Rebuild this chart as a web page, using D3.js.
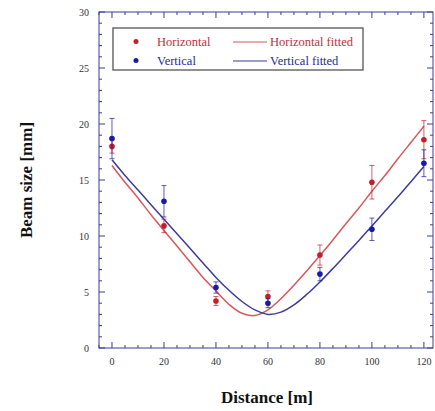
<!DOCTYPE html>
<html>
<head>
<meta charset="utf-8">
<script src="https://cdn.jsdelivr.net/npm/d3@7"></script>
<style>
  body { margin: 0; background: #fff; }
  text { font-family: "Liberation Serif", "Times New Roman", serif; }
</style>
</head>
<body>
<div id="chart"></div>
<script>
// measured points (distance in m, beam size in mm)
const distances = [0, 20, 40, 60, 80, 100, 120];
const horizSize = [18.0, 10.9, 4.2, 4.6, 8.3, 14.8, 18.6];
const horizErr  = [0.6, 0.6, 0.4, 0.5, 0.9, 1.5, 1.7];
const vertSize  = [18.7, 13.1, 5.4, 4.0, 6.6, 10.6, 16.5];
const vertErr   = [1.8, 1.4, 0.5, 0.4, 0.6, 1.0, 1.2];

// fitted curves
const fitDist = [0, 5, 10, 15, 20, 25, 30, 35, 40, 45, 50, 55, 60,
                 65, 70, 75, 80, 85, 90, 95, 100, 105, 110, 115, 120];
const horizFit = [16.3, 14.8, 13.4, 11.9, 10.5, 9.1, 7.7, 6.3, 5.1, 3.9, 3.1, 2.9, 3.4,
                  4.4, 5.6, 6.9, 8.25, 9.65, 11.1, 12.5, 14.0, 15.4, 16.9, 18.35, 19.8];
const vertFit  = [16.8, 15.4, 14.1, 12.8, 11.5, 10.2, 8.9, 7.6, 6.3, 5.15, 4.15, 3.4, 3.0,
                  3.2, 3.85, 4.8, 5.9, 7.1, 8.35, 9.6, 10.9, 12.2, 13.5, 14.85, 16.2];

const xTicks = [0, 20, 40, 60, 80, 100, 120];
const yTicks = [0, 5, 10, 15, 20, 25, 30];

const W = 435, H = 411;
const margin = { top: 12, right: 2, bottom: 63, left: 99 };
const axisColor = "#3c3c96";
const red = "#c41e2c", blue = "#1a1aa8";
const redLine = "#d9575a", blueLine = "#3c3c98";

const svg = d3.select("#chart").append("svg")
  .attr("width", W).attr("height", H);

const pw = W - margin.left - margin.right;
const ph = H - margin.top - margin.bottom;

const x = d3.scaleLinear().domain([-5, 123.5]).range([0, pw]);
const y = d3.scaleLinear().domain([0, 30]).range([ph, 0]);

const plot = svg.append("g")
  .attr("transform", `translate(${margin.left},${margin.top})`);

// frame
plot.append("rect")
  .attr("width", pw).attr("height", ph)
  .attr("fill", "none").attr("stroke", axisColor).attr("stroke-width", 1);

// ticks (inward on all four sides)
const xMinor = d3.range(-5, 124, 5);
const yMinor = d3.range(0, 31, 1);
const tickG = plot.append("g").attr("stroke", axisColor).attr("stroke-width", 1);
xMinor.forEach(v => {
  const major = xTicks.includes(v);
  const len = major ? 6 : 3;
  tickG.append("line").attr("x1", x(v)).attr("x2", x(v)).attr("y1", ph).attr("y2", ph - len);
  tickG.append("line").attr("x1", x(v)).attr("x2", x(v)).attr("y1", 0).attr("y2", len);
});
yMinor.forEach(v => {
  const major = yTicks.includes(v);
  const len = major ? 6 : 3;
  tickG.append("line").attr("y1", y(v)).attr("y2", y(v)).attr("x1", 0).attr("x2", len);
  tickG.append("line").attr("y1", y(v)).attr("y2", y(v)).attr("x1", pw).attr("x2", pw - len);
});

// tick labels
plot.append("g").selectAll("text")
  .data(xTicks).join("text")
  .attr("x", d => x(d)).attr("y", ph + 17)
  .attr("text-anchor", "middle")
  .style("font-size", "10px").style("fill", "#333")
  .text(d => d);

plot.append("g").selectAll("text")
  .data(yTicks).join("text")
  .attr("x", -10).attr("y", d => y(d)).attr("dy", "0.35em")
  .attr("text-anchor", "end")
  .style("font-size", "10px").style("fill", "#333")
  .text(d => d);

// axis titles
svg.append("text")
  .attr("x", 267).attr("y", 403)
  .attr("text-anchor", "middle")
  .style("font-size", "17px").style("font-weight", "bold").style("fill", "#111")
  .text("Distance [m]");

svg.append("text")
  .attr("transform", `translate(32,${margin.top + y(15)}) rotate(-90)`)
  .attr("text-anchor", "middle")
  .style("font-size", "17px").style("font-weight", "bold").style("fill", "#111")
  .text("Beam size [mm]");

// fitted curves
const line = d3.line()
  .x(d => x(d[0])).y(d => y(d[1]))
  .curve(d3.curveCatmullRom);

plot.append("path")
  .datum(fitDist.map((d, i) => [d, horizFit[i]]))
  .attr("d", line).attr("fill", "none")
  .attr("stroke", redLine).attr("stroke-width", 1.5);

plot.append("path")
  .datum(fitDist.map((d, i) => [d, vertFit[i]]))
  .attr("d", line).attr("fill", "none")
  .attr("stroke", blueLine).attr("stroke-width", 1.5);

// measured points with error bars
function addSeries(vals, errs, color) {
  const g = plot.append("g");
  const pts = distances.map((d, i) => ({ d, v: vals[i], e: errs[i] }));
  g.selectAll(".eb").data(pts).join("line")
    .attr("x1", p => x(p.d)).attr("x2", p => x(p.d))
    .attr("y1", p => y(p.v - p.e)).attr("y2", p => y(p.v + p.e))
    .attr("stroke", color).attr("stroke-width", 1).attr("opacity", 0.7);
  [-1, 1].forEach(s => {
    g.selectAll(".cap" + s).data(pts).join("line")
      .attr("x1", p => x(p.d) - 2.5).attr("x2", p => x(p.d) + 2.5)
      .attr("y1", p => y(p.v + s * p.e)).attr("y2", p => y(p.v + s * p.e))
      .attr("stroke", color).attr("stroke-width", 1).attr("opacity", 0.7);
  });
  g.selectAll("circle").data(pts).join("circle")
    .attr("cx", p => x(p.d)).attr("cy", p => y(p.v))
    .attr("r", 2.8).attr("fill", color);
}
addSeries(horizSize, horizErr, red);
addSeries(vertSize, vertErr, blue);

// legend
const lg = svg.append("g").attr("transform", "translate(113,28)");
lg.append("rect").attr("width", 250).attr("height", 42)
  .attr("fill", "#fff").attr("stroke", "#555").attr("stroke-width", 1.3);
const legendRows = [
  { label: "Horizontal", fit: "Horizontal fitted", c: red, lc: redLine, tc: "#cc2a3a", yy: 14 },
  { label: "Vertical", fit: "Vertical fitted", c: blue, lc: blueLine, tc: "#2a2a9a", yy: 33 }
];
legendRows.forEach(r => {
  lg.append("circle").attr("cx", 23).attr("cy", r.yy - 0.5).attr("r", 2.5).attr("fill", r.c);
  lg.append("text").attr("x", 44).attr("y", r.yy).attr("dy", "0.33em")
    .style("font-size", "12.5px").style("fill", r.tc).text(r.label);
  lg.append("line").attr("x1", 120).attr("x2", 154).attr("y1", r.yy).attr("y2", r.yy)
    .attr("stroke", r.lc).attr("stroke-width", 1.2);
  lg.append("text").attr("x", 157).attr("y", r.yy).attr("dy", "0.33em")
    .style("font-size", "12.5px").style("fill", r.tc).text(r.fit);
});
</script>
</body>
</html>
